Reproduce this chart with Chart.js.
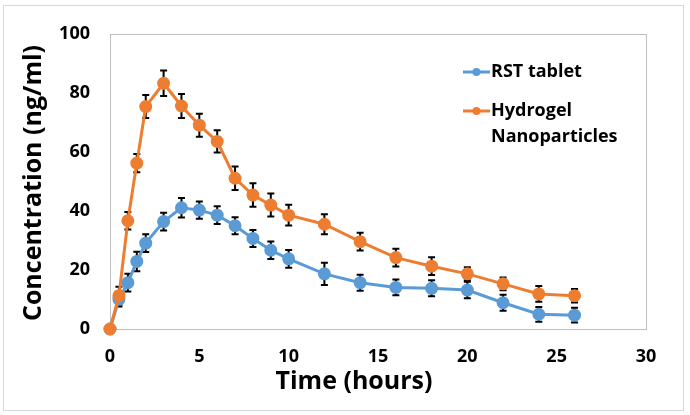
<!DOCTYPE html>
<html>
<head>
<meta charset="utf-8">
<script src="https://cdn.jsdelivr.net/npm/chart.js@4"></script>
<style>
    body { margin: 0; background: #fff; }
    #wrap { width: 690px; height: 415px; }
</style>
</head>
<body>
<div id="wrap"><canvas id="myChart" width="690" height="415"></canvas></div>
<script>
// sampling times (hours)
const times = [0, 0.5, 1, 1.5, 2, 3, 4, 5, 6, 7, 8, 9, 10, 12, 14, 16, 18, 20, 22, 24, 26];

// mean plasma concentration (ng/ml) and its error
const rstTablet = [0, 10.1, 15.7, 22.9, 29.1, 36.4, 41.1, 40.3, 38.6, 35.0, 30.7, 26.7, 23.8, 18.7, 15.7, 14.1, 13.8, 13.2, 8.9, 5.0, 4.7];
const rstError = [0, 2.5, 3, 3.3, 3, 3, 3.3, 2.9, 3, 2.9, 2.9, 3, 3, 3.8, 2.7, 2.7, 2.7, 2.8, 2.7, 2.5, 2.5];

const hydrogel = [0, 11.3, 36.7, 56.2, 75.4, 83.3, 75.6, 69.1, 63.6, 51.1, 45.4, 42.0, 38.6, 35.5, 29.6, 24.2, 21.3, 18.7, 15.3, 11.9, 11.3];
const hydrogelError = [0, 3, 3, 3.1, 3.9, 4.3, 4.1, 3.9, 3.8, 4, 4, 3.9, 3.5, 3.4, 3, 3, 3, 2.2, 2.2, 2.7, 2.3];

const xTicks = [0, 5, 10, 15, 20, 25, 30];
const yTicks = [0, 20, 40, 60, 80, 100];

const seriesLabels = [['RST tablet'], ['Hydrogel', 'Nanoparticles']];

const FONT = '"Open Sans", sans-serif';

function toPoints(values) {
    return times.map((t, i) => ({ x: t, y: values[i] }));
}

// frames: outer chart border and plot area border
const framePlugin = {
    id: 'frame',
    beforeDraw(chart) {
        const ctx = chart.ctx;
        const area = chart.chartArea;
        ctx.save();
        ctx.strokeStyle = '#d9d9d9';
        ctx.lineWidth = 1;
        ctx.strokeRect(3.5, 5.5, 680, 405);
        ctx.strokeStyle = '#bfbfbf';
        ctx.strokeRect(area.left + 0.5, area.top + 0.5, area.right - area.left, area.bottom - area.top);
        ctx.restore();
    }
};

// error bars go under the markers
const errorBarPlugin = {
    id: 'errorBars',
    beforeDatasetsDraw(chart) {
        const ctx = chart.ctx;
        const xs = chart.scales.x;
        const ys = chart.scales.y;
        ctx.save();
        ctx.strokeStyle = '#000';
        ctx.lineWidth = 2;
        chart.data.datasets.forEach(ds => {
            ds.data.forEach((p, j) => {
                const e = ds.errors[j];
                if (!e) return;
                const x = xs.getPixelForValue(p.x);
                const top = ys.getPixelForValue(p.y + e);
                const bot = ys.getPixelForValue(p.y - e);
                ctx.beginPath();
                ctx.moveTo(x, top);
                ctx.lineTo(x, bot);
                ctx.moveTo(x - 3.5, top);
                ctx.lineTo(x + 3.5, top);
                ctx.moveTo(x - 3.5, bot);
                ctx.lineTo(x + 3.5, bot);
                ctx.stroke();
            });
        });
        ctx.restore();
    }
};

// axis titles and the legend inside the plot area
const textPlugin = {
    id: 'texts',
    afterDraw(chart) {
        const ctx = chart.ctx;
        ctx.save();
        ctx.fillStyle = '#000';
        ctx.font = 'bold 25px ' + FONT;
        ctx.textAlign = 'center';
        ctx.textBaseline = 'middle';
        ctx.fillText('Time (hours)', 354, 382);
        ctx.translate(34, 183);
        ctx.rotate(-Math.PI / 2);
        ctx.fillText('Concentration (ng/ml)', 0, 0);
        ctx.restore();

        ctx.save();
        const rows = [72, 111];
        chart.data.datasets.forEach((ds, i) => {
            const y = rows[i];
            ctx.strokeStyle = ds.borderColor;
            ctx.lineWidth = 3;
            ctx.beginPath();
            ctx.moveTo(463, y);
            ctx.lineTo(490, y);
            ctx.stroke();
            ctx.fillStyle = ds.borderColor;
            ctx.beginPath();
            ctx.arc(476.5, y, 4, 0, Math.PI * 2);
            ctx.fill();
            ctx.fillStyle = '#000';
            ctx.font = 'bold 18px ' + FONT;
            ctx.textAlign = 'left';
            ctx.textBaseline = 'middle';
            seriesLabels[i].forEach((line, k) => {
                ctx.fillText(line, 491, y + k * 26);
            });
        });
        ctx.restore();
    }
};

function loadChart() {
    const config = {
        type: 'line',
        data: {
            datasets: [
                {
                    label: seriesLabels[0].join(' '),
                    data: toPoints(rstTablet),
                    errors: rstError,
                    borderColor: '#5b9bd5',
                    backgroundColor: '#5b9bd5',
                    borderWidth: 3,
                    pointRadius: 5,
                    pointHoverRadius: 5,
                    order: 2
                },
                {
                    label: seriesLabels[1].join(' '),
                    data: toPoints(hydrogel),
                    errors: hydrogelError,
                    borderColor: '#ed7d31',
                    backgroundColor: '#ed7d31',
                    borderWidth: 3,
                    pointRadius: 5,
                    pointHoverRadius: 5,
                    order: 1
                }
            ]
        },
        options: {
            responsive: false,
            animation: false,
            clip: false,
            layout: {
                padding: { top: 34, right: 44, left: 0, bottom: 0 }
            },
            plugins: {
                legend: { display: false },
                tooltip: { enabled: false }
            },
            scales: {
                x: {
                    type: 'linear',
                    min: 0,
                    max: 30,
                    afterBuildTicks: scale => { scale.ticks = xTicks.map(v => ({ value: v })); },
                    afterFit: scale => { scale.height = 86; },
                    grid: { display: false, drawTicks: false },
                    border: { display: false },
                    ticks: {
                        padding: 17,
                        color: '#000',
                        font: { family: FONT, size: 18, weight: 'bold' }
                    }
                },
                y: {
                    min: 0,
                    max: 100,
                    afterBuildTicks: scale => { scale.ticks = yTicks.map(v => ({ value: v })); },
                    afterFit: scale => { scale.width = 110; },
                    grid: { display: false, drawTicks: false },
                    border: { display: false },
                    ticks: {
                        padding: 20,
                        color: '#000',
                        font: { family: FONT, size: 18, weight: 'bold' }
                    }
                }
            }
        },
        plugins: [framePlugin, errorBarPlugin, textPlugin]
    };

    const ctx = document.getElementById('myChart').getContext('2d');
    if (ctx) {
        new Chart(ctx, config);
    }
}

loadChart();
</script>
</body>
</html>
